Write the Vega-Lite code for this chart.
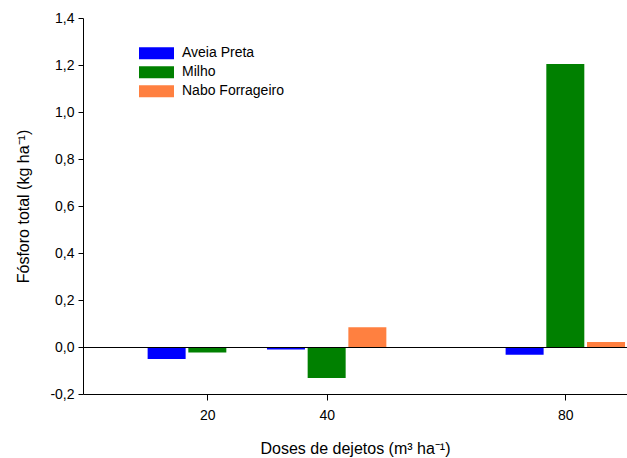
{
  "$schema": "https://vega.github.io/schema/vega-lite/v6.json",
  "width": 544,
  "height": 376,
  "autosize": {"type": "none"},
  "padding": {"left": 83, "top": 18, "right": 0, "bottom": 64},
  "config": {
    "view": {"stroke": null},
    "font": "Liberation Sans",
    "axis": {
      "domainColor": "#000000",
      "tickColor": "#000000",
      "labelColor": "#000000",
      "titleColor": "#000000",
      "labelFont": "Liberation Sans",
      "titleFont": "Liberation Sans",
      "labelFontSize": 14,
      "titleFontSize": 16,
      "titleFontWeight": "normal",
      "grid": false,
      "tickSize": 5
    }
  },
  "data": {
    "values": [
      {"dose": 20, "serie": "Aveia Preta", "value": -0.051},
      {"dose": 20, "serie": "Milho", "value": -0.023},
      {"dose": 20, "serie": "Nabo Forrageiro", "value": 0},
      {"dose": 40, "serie": "Aveia Preta", "value": -0.011},
      {"dose": 40, "serie": "Milho", "value": -0.132},
      {"dose": 40, "serie": "Nabo Forrageiro", "value": 0.084},
      {"dose": 80, "serie": "Aveia Preta", "value": -0.033},
      {"dose": 80, "serie": "Milho", "value": 1.204},
      {"dose": 80, "serie": "Nabo Forrageiro", "value": 0.021}
    ]
  },
  "encoding": {
    "x": {
      "field": "dose",
      "type": "quantitative",
      "scale": {"domain": [0, 89.5], "nice": false, "zero": false},
      "axis": {
        "values": [20, 40, 80],
        "title": "Doses de dejetos (m³ ha⁻¹)",
        "labelPadding": 8,
        "titlePadding": 18,
        "tickSize": 6
      }
    },
    "y": {
      "field": "value",
      "type": "quantitative",
      "stack": null,
      "scale": {"domain": [-0.2, 1.4], "nice": false},
      "axis": {
        "values": [-0.2, 0, 0.2, 0.4, 0.6, 0.8, 1.0, 1.2, 1.4],
        "labelExpr": "replace(replace(format(datum.value, '.1f'), '.', ','), '−', '-')",
        "title": "Fósforo total (kg ha⁻¹)",
        "labelPadding": 4,
        "titlePadding": 18
      }
    },
    "color": {
      "field": "serie",
      "type": "nominal",
      "scale": {"domain": ["Aveia Preta", "Milho", "Nabo Forrageiro"], "range": ["#0000FF", "#008000", "#FF8040"]},
      "legend": {
        "title": null,
        "orient": "none",
        "legendX": 56,
        "legendY": 26,
        "padding": 0,
        "rowPadding": 0,
        "clipHeight": 18.5,
        "symbolType": "M-1,-0.34L1,-0.34L1,0.34L-1,0.34Z",
        "symbolSize": 1225,
        "symbolStrokeWidth": 0,
        "symbolOpacity": 1,
        "labelOffset": 8,
        "labelFontSize": 14,
        "labelFont": "Liberation Sans",
        "labelColor": "#000000"
      }
    }
  },
  "layer": [
    {
      "transform": [{"filter": "datum.serie == 'Aveia Preta'"}],
      "mark": {"type": "bar", "width": 38, "xOffset": -40.7, "clip": true}
    },
    {
      "transform": [{"filter": "datum.serie == 'Milho'"}],
      "mark": {"type": "bar", "width": 38, "xOffset": 0, "clip": true}
    },
    {
      "transform": [{"filter": "datum.serie == 'Nabo Forrageiro'"}],
      "mark": {"type": "bar", "width": 38, "xOffset": 40.7, "clip": true}
    },
    {
      "mark": {"type": "rule", "color": "#000000", "strokeWidth": 1, "yOffset": 0.5},
      "encoding": {"y": {"datum": 0}, "x": null, "color": null}
    }
  ]
}
